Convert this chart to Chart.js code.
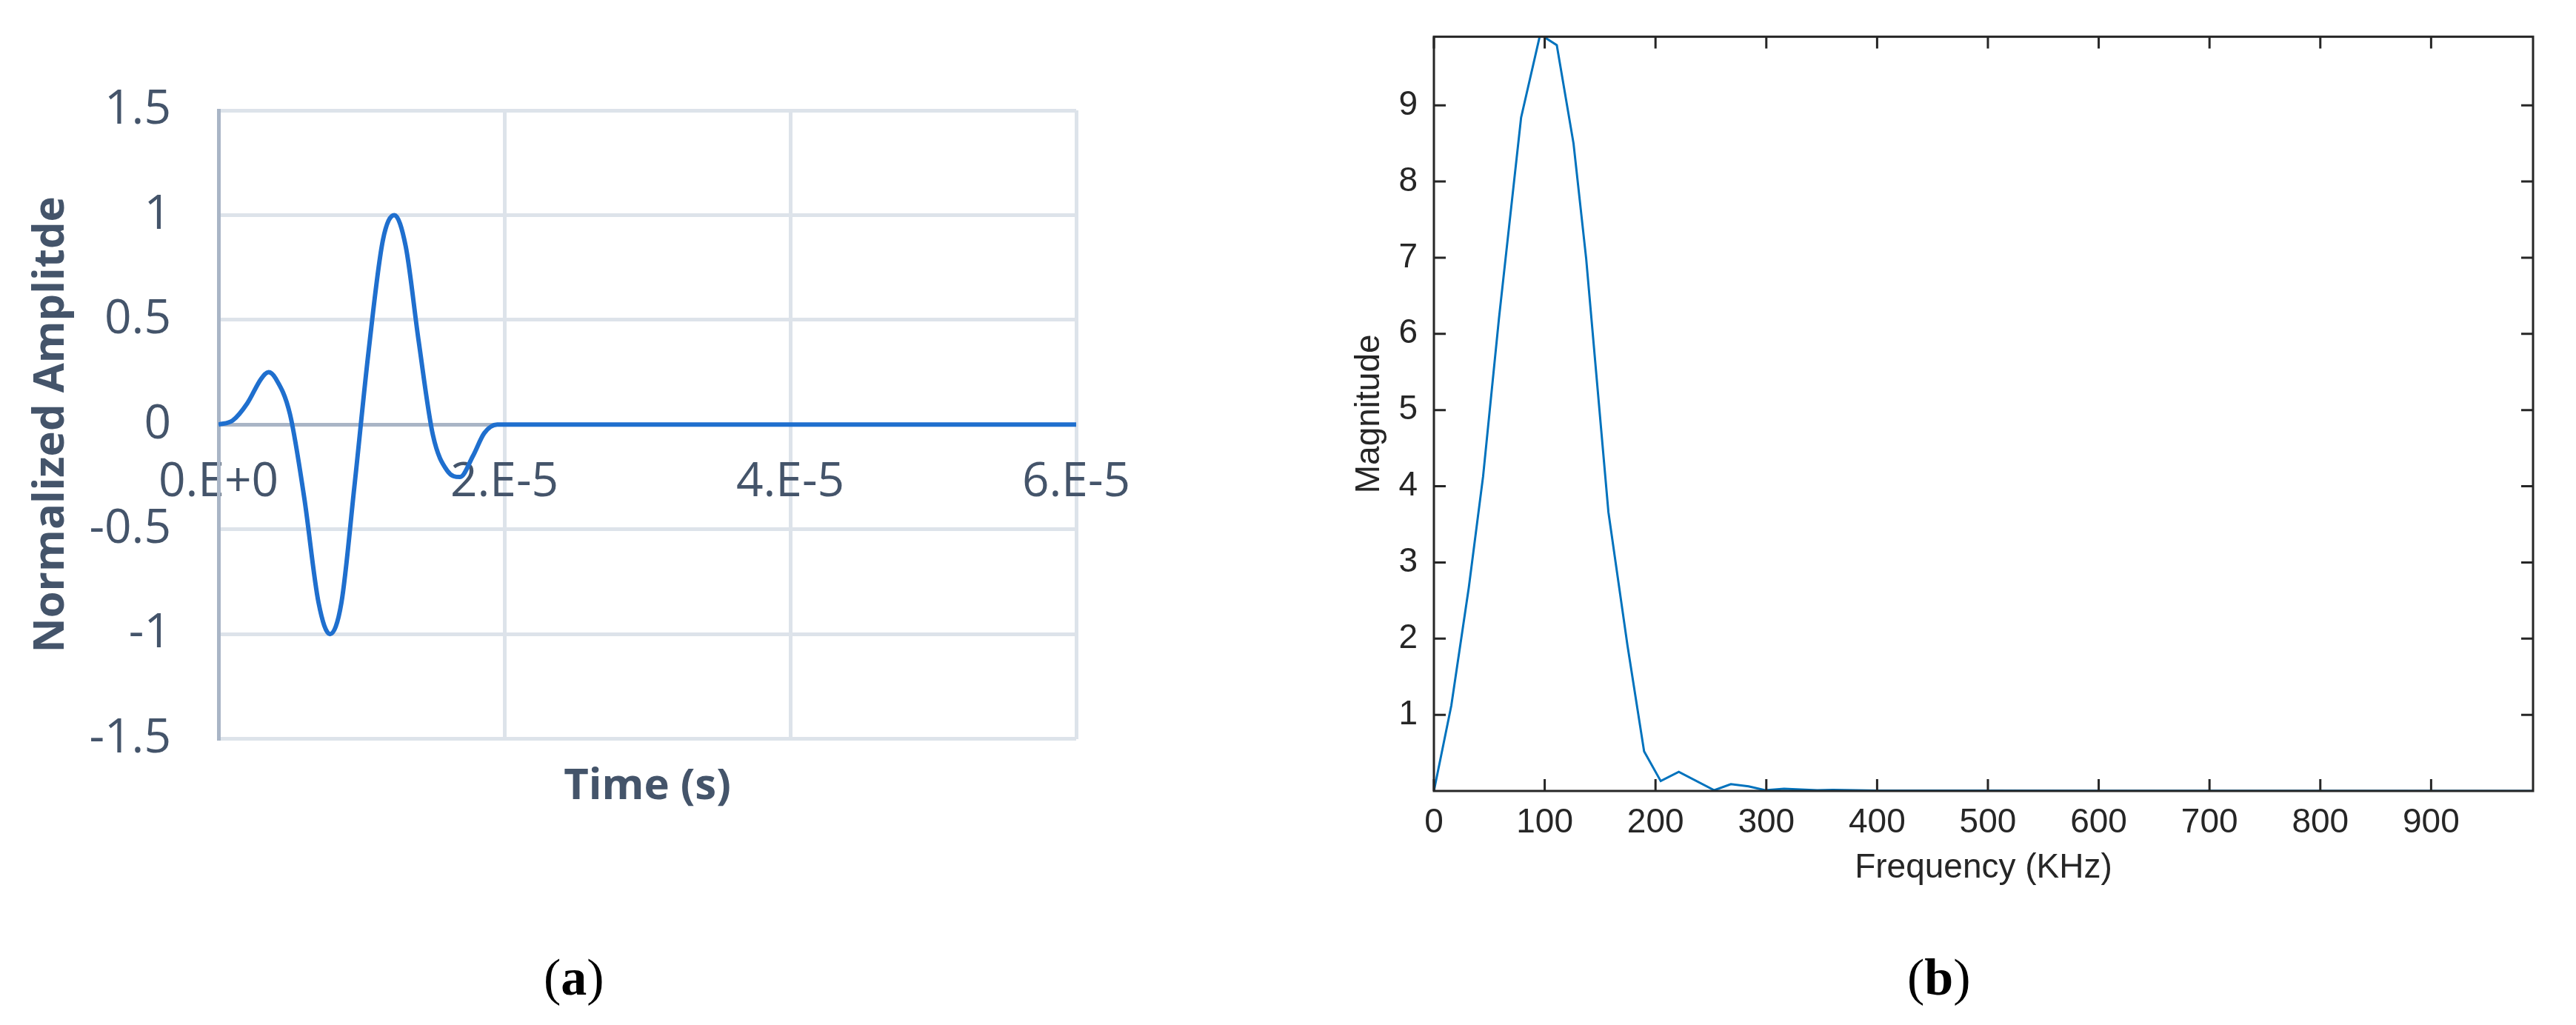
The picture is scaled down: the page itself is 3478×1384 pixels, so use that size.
<!DOCTYPE html>
<html><head><meta charset="utf-8">
<script src="https://cdn.jsdelivr.net/npm/chart.js@4.4.1/dist/chart.umd.min.js"></script>
<style>
body{margin:0;background:#fff;width:3478px;height:1384px;position:relative;overflow:hidden}
canvas{position:absolute}
.lab{position:absolute;font-family:"Liberation Serif",serif;font-size:70px;color:#000}
</style></head><body>
<canvas id="ca" style="left:0;top:0"></canvas>
<canvas id="cb" style="left:1760px;top:0"></canvas>
<div class="lab" style="left:734px;top:1280px">(<b>a</b>)</div>
<div class="lab" style="left:2575px;top:1280px">(<b>b</b>)</div>
<script>
// Panel (a): time (microseconds) and normalized amplitude
const timeUs = [0,1,2,3,3.5,4,5,6,7,7.8,8.6,9.5,10.5,11.5,12.3,13.1,14,15,16,16.9,17.8,18.6,19.5,20,30,40,50,60];
const amplitude = [0,0.02,0.1,0.22,0.25,0.22,0.05,-0.35,-0.85,-1.0,-0.85,-0.3,0.35,0.88,1.0,0.85,0.4,-0.05,-0.22,-0.25,-0.15,-0.04,0,0,0,0,0,0];
const timeTicks = ["0.E+0","2.E-5","4.E-5","6.E-5"];
const ampTicks = [-1.5,-1,-0.5,0,0.5,1,1.5];
// Panel (b): frequency (KHz) and magnitude
const freqKHz = [0,15.7,31.5,44.4,58.7,78.7,95.9,110.9,126,137.4,157.5,174.7,189.7,204.7,221,253,268,284,299,316,331,346,360,400,500,600,992];
const magnitude = [0,1.12,2.67,4.13,6.2,8.84,9.93,9.79,8.5,6.99,3.66,1.91,0.52,0.13,0.25,0.01,0.09,0.06,0.01,0.03,0.02,0.01,0.015,0.005,0.005,0.003,0];
const freqTicks = [0,100,200,300,400,500,600,700,800,900];
const magTicks = [1,2,3,4,5,6,7,8,9];

Chart.defaults.animation=false;
Chart.defaults.devicePixelRatio=1;
const slate='#44546a';
const ca=document.getElementById('ca');ca.width=1600;ca.height=1100;
new Chart(ca,{type:'line',
 data:{datasets:[{data:timeUs.map((t,i)=>({x:t*1e-6,y:amplitude[i]})),borderColor:'#1f6fce',borderWidth:6,pointRadius:0,cubicInterpolationMode:'monotone',xAxisID:'x',yAxisID:'y'}]},
 options:{responsive:false,parsing:false,layout:{padding:{left:35,right:147,top:149,bottom:0}},
  plugins:{legend:{display:false},tooltip:{enabled:false}},
  scales:{
   x:{type:'linear',position:'bottom',min:0,max:6e-5,
      afterBuildTicks:s=>{s.ticks=[0,2e-5,4e-5,6e-5].map(v=>({value:v}));},
      afterFit:s=>{s.height=100;},
      ticks:{display:false},grid:{color:'#dde3ea',lineWidth:5,drawTicks:false},border:{display:false},
      title:{display:true,text:'Time (s)',color:slate,font:{family:'Open Sans',size:58,weight:'bold'},padding:{top:0,bottom:0}}},
   x2:{type:'linear',position:{y:0},min:0,max:6e-5,
      afterBuildTicks:s=>{s.ticks=[0,2e-5,4e-5,6e-5].map(v=>({value:v}));},
      ticks:{color:slate,font:{family:'Open Sans',size:64},padding:40,callback:(v,i)=>timeTicks[i]},
      grid:{display:false,drawTicks:false},border:{display:false}},
   y:{min:-1.5,max:1.5,afterBuildTicks:s=>{s.ticks=ampTicks.map(v=>({value:v}));},
      afterFit:s=>{s.width=260;},
      ticks:{color:slate,font:{family:'Open Sans',size:64},padding:64,callback:v=>String(v)},
      grid:{color:c=>c.tick&&c.tick.value===0?'#a9b5c6':'#dde3ea',lineWidth:5,drawTicks:false},
      border:{color:'#a9b5c6',width:5},
      title:{display:true,text:'Normalized Amplitde',color:slate,font:{family:'Open Sans',size:58,weight:'bold'},padding:0}}
  }}});

const inTicks={id:'inTicks',afterDraw(c){const g=c.ctx,a=c.chartArea,sx=c.scales.x,sy=c.scales.y;g.save();g.strokeStyle='#262626';g.lineWidth=3;
 g.strokeRect(a.left,a.top,a.right-a.left,a.bottom-a.top);const L=16;g.beginPath();
 sx.ticks.forEach(t=>{const p=sx.getPixelForValue(t.value);g.moveTo(p,a.bottom);g.lineTo(p,a.bottom-L);g.moveTo(p,a.top);g.lineTo(p,a.top+L);});
 sy.ticks.forEach(t=>{const p=sy.getPixelForValue(t.value);g.moveTo(a.left,p);g.lineTo(a.left+L,p);g.moveTo(a.right,p);g.lineTo(a.right-L,p);});
 g.stroke();g.restore();}};
const cb=document.getElementById('cb');cb.width=1718;cb.height=1200;
new Chart(cb,{type:'line',plugins:[inTicks],
 data:{datasets:[{data:freqKHz.map((f,i)=>({x:f,y:magnitude[i]})),borderColor:'#0072bd',borderWidth:3,pointRadius:0,tension:0}]},
 options:{responsive:false,parsing:false,layout:{padding:{left:62,right:58,top:49,bottom:0}},
  plugins:{legend:{display:false},tooltip:{enabled:false}},
  scales:{
   x:{type:'linear',min:0,max:992,afterBuildTicks:s=>{s.ticks=freqTicks.map(v=>({value:v}));},
      afterFit:s=>{s.height=132;},
      ticks:{color:'#262626',font:{family:'Liberation Sans',size:46},padding:16,maxRotation:0},
      grid:{display:false,drawTicks:false},border:{display:false},
      title:{display:true,text:'Frequency (KHz)',color:'#262626',font:{family:'Liberation Sans',size:46},padding:0}},
   y:{min:0,max:9.9,afterBuildTicks:s=>{s.ticks=magTicks.map(v=>({value:v}));},
      afterFit:s=>{s.width=114;},
      ticks:{color:'#262626',font:{family:'Liberation Sans',size:46},padding:22},
      grid:{display:false,drawTicks:false},border:{display:false},
      title:{display:true,text:'Magnitude',color:'#262626',font:{family:'Liberation Sans',size:46},padding:0}}
  }}});
</script></body></html>
